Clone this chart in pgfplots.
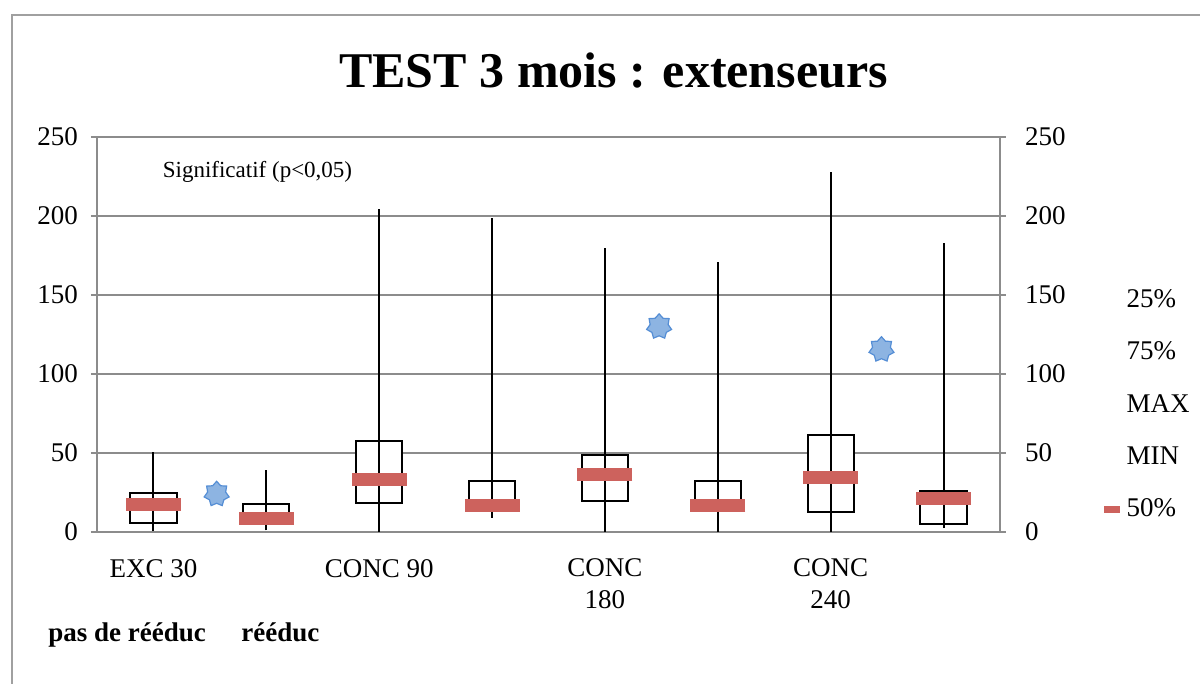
\documentclass[border=0pt]{standalone}
\usepackage{fontspec}
\setmainfont{Liberation Serif}
\usepackage{pgfplots}
\pgfplotsset{compat=1.18}
\usepgfplotslibrary{statistics}
\definecolor{axgray}{RGB}{140,140,140}
\definecolor{framegray}{RGB}{160,160,160}
\definecolor{medred}{RGB}{205,98,93}
\definecolor{starfill}{RGB}{141,180,226}
\definecolor{stardraw}{RGB}{85,142,213}
\pgfdeclareplotmark{star7}{%
  \pgfpathmoveto{\pgfpointpolar{90}{\pgfplotmarksize}}%
  \pgfpathlineto{\pgfpointpolar{115.71}{0.72\pgfplotmarksize}}%
  \pgfpathlineto{\pgfpointpolar{141.43}{\pgfplotmarksize}}%
  \pgfpathlineto{\pgfpointpolar{167.14}{0.72\pgfplotmarksize}}%
  \pgfpathlineto{\pgfpointpolar{192.86}{\pgfplotmarksize}}%
  \pgfpathlineto{\pgfpointpolar{218.57}{0.72\pgfplotmarksize}}%
  \pgfpathlineto{\pgfpointpolar{244.29}{\pgfplotmarksize}}%
  \pgfpathlineto{\pgfpointpolar{270}{0.72\pgfplotmarksize}}%
  \pgfpathlineto{\pgfpointpolar{295.71}{\pgfplotmarksize}}%
  \pgfpathlineto{\pgfpointpolar{321.43}{0.72\pgfplotmarksize}}%
  \pgfpathlineto{\pgfpointpolar{347.14}{\pgfplotmarksize}}%
  \pgfpathlineto{\pgfpointpolar{12.86}{0.72\pgfplotmarksize}}%
  \pgfpathlineto{\pgfpointpolar{38.57}{\pgfplotmarksize}}%
  \pgfpathlineto{\pgfpointpolar{64.29}{0.72\pgfplotmarksize}}%
  \pgfpathclose
  \pgfusepathqfillstroke
}
\pgfplotsset{
  mybox/.style={
    boxplot prepared,
    boxplot/draw direction=y,
    draw=black, fill=white, line width=1pt, mark=none,
    boxplot/box extend=0.41,
    boxplot/every whisker/.style={draw=none},
    boxplot/every median/.style={draw=none},
  }
}
\begin{document}
\begin{tikzpicture}
\path[use as bounding box] (0,0) rectangle (600pt,342pt);
\draw[color=framegray, line width=0.9pt] (6pt,0) -- (6pt,334.5pt) -- (600pt,334.5pt);
\node[font=\fontsize{25}{30}\selectfont\bfseries] at (306.75pt,306.5pt) {TEST 3 mois : extenseurs};
\node[font=\fontsize{13.5}{16}\selectfont\bfseries, anchor=base west, inner sep=0pt] at (24pt,21pt) {pas de rééduc};
\node[font=\fontsize{13.5}{16}\selectfont\bfseries, anchor=base west, inner sep=0pt] at (120.5pt,21pt) {rééduc};
\begin{axis}[
  at={(48.5pt,76pt)}, anchor=south west,
  scale only axis, width=451.5pt, height=197.5pt,
  xmin=-0.5, xmax=7.5, ymin=0, ymax=250,
  ytick={0,50,100,150,200,250},
  xtick={0,2,4,6},
  xticklabels={{EXC 30},{CONC 90},{CONC\\180},{CONC\\240}},
  xticklabel style={align=center, font=\fontsize{13.5}{16}\selectfont, yshift=-7pt},
  extra x ticks={-0.5,0.5,1.5,2.5,3.5,4.5,5.5,6.5,7.5},
  extra x tick labels={},
  extra x tick style={major tick length=3.5pt, tick style={axgray, line width=0.8pt}, grid=none},
  x tick style={draw=none},
  tick align=outside,
  ytick pos=both, xtick pos=bottom,
  y tick style={axgray, line width=0.8pt},
  major tick length=3pt,
  yticklabel pos=left,
  yticklabel style={font=\fontsize{13.5}{16}\selectfont, xshift=-3pt},
  /pgf/number format/assume math mode=true,
  ymajorgrids, major grid style={axgray, line width=0.8pt},
  axis line style={axgray, line width=0.8pt},
  legend style={at={(1.111,0.623)}, anchor=north west, draw=none, fill=none,
    font=\fontsize{13.5}{16}\selectfont, row sep=12.75pt, inner sep=0pt,
    nodes={inner sep=1.5pt}},
  legend cell align=left,
  legend image code/.code={\draw[#1] (0pt,0pt) -- (8pt,0pt);},
  clip=false,
]
\addlegendimage{draw opacity=0}\addlegendentry{25\%}
\addlegendimage{draw opacity=0}\addlegendentry{75\%}
\addlegendimage{draw opacity=0}\addlegendentry{MAX}
\addlegendimage{draw opacity=0}\addlegendentry{MIN}
\addlegendimage{medred, line width=3.5pt}\addlegendentry{50\%}
% boxes: 25% to 75%
\addplot[mybox, boxplot prepared={draw position=0, lower whisker=5.5, lower quartile=5.5, median=17.7, upper quartile=24.5, upper whisker=24.5}, forget plot] coordinates {};
\addplot[mybox, boxplot prepared={draw position=1, lower whisker=6, lower quartile=6, median=8.8, upper quartile=17.5, upper whisker=17.5}, forget plot] coordinates {};
\addplot[mybox, boxplot prepared={draw position=2, lower whisker=18.1, lower quartile=18.1, median=33.3, upper quartile=57.6, upper whisker=57.6}, forget plot] coordinates {};
\addplot[mybox, boxplot prepared={draw position=3, lower whisker=13, lower quartile=13, median=17, upper quartile=32.5, upper whisker=32.5}, forget plot] coordinates {};
\addplot[mybox, boxplot prepared={draw position=4, lower whisker=19.6, lower quartile=19.6, median=36.5, upper quartile=48.7, upper whisker=48.7}, forget plot] coordinates {};
\addplot[mybox, boxplot prepared={draw position=5, lower whisker=14, lower quartile=14, median=16.5, upper quartile=32.5, upper whisker=32.5}, forget plot] coordinates {};
\addplot[mybox, boxplot prepared={draw position=6, lower whisker=12.4, lower quartile=12.4, median=34.6, upper quartile=61.6, upper whisker=61.6}, forget plot] coordinates {};
\addplot[mybox, boxplot prepared={draw position=7, lower whisker=5, lower quartile=5, median=21.5, upper quartile=26.2, upper whisker=26.2}, forget plot] coordinates {};
% high-low lines (MIN to MAX)
\addplot[black, line width=1pt, unbounded coords=jump, forget plot] coordinates {
 (0,0.5) (0,50.8) (0.5,nan)
 (1,1) (1,39) (1.5,nan)
 (2,0) (2,204.4) (2.5,nan)
 (3,8.9) (3,198.7) (3.5,nan)
 (4,0) (4,179.7) (4.5,nan)
 (5,0) (5,171) (5.5,nan)
 (6,0) (6,227.8) (6.5,nan)
 (7,2.5) (7,183)
};
% medians (50%)
\addplot[only marks, mark=-, mark size=13.75pt, mark options={line width=6.5pt, color=medred}, forget plot] coordinates {
 (0,17.7) (1,8.8) (2,33.3) (3,17) (4,36.5) (5,16.5) (6,34.6) (7,21.5)
};
% significance stars
\addplot[only marks, mark=star7, mark size=6.4pt, mark options={fill=starfill, draw=stardraw, line width=0.6pt}, forget plot] coordinates {
 (0.56,24) (4.48,130) (6.45,115.5)
};
\node[anchor=west, font=\fontsize{11.5}{14}\selectfont, inner sep=0pt] at (axis cs:0.08,228) {Significatif (p<0,05)};
\end{axis}
\begin{axis}[
  at={(48.5pt,76pt)}, anchor=south west,
  scale only axis, width=451.5pt, height=197.5pt,
  xmin=-0.5, xmax=7.5, ymin=0, ymax=250,
  ytick={0,50,100,150,200,250},
  hide x axis,
  axis y line*=right,
  axis line style={draw=none},
  y tick style={draw=none},
  yticklabel style={font=\fontsize{13.5}{16}\selectfont, anchor=west, xshift=9pt},
  /pgf/number format/assume math mode=true,
]
\addplot[draw=none] coordinates {(0,0)};
\end{axis}
\end{tikzpicture}
\end{document}
